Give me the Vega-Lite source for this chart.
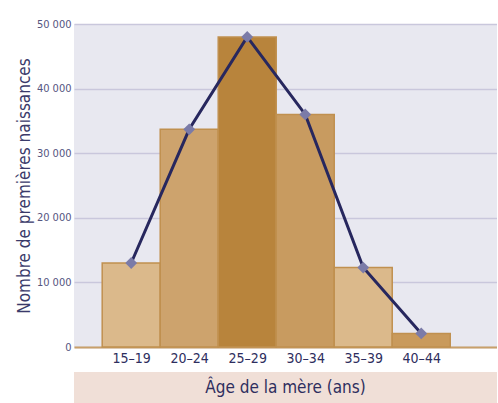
{
  "$schema": "https://vega.github.io/schema/vega-lite/v6.json",
  "padding": {"left": 15, "top": 18, "right": 0, "bottom": 0},
  "background": "#ffffff",
  "config": {
    "font": "Liberation Sans Narrow, DejaVu Sans Condensed, sans-serif",
    "view": {"stroke": null},
    "concat": {"spacing": 7}
  },
  "datasets": {
    "births": [
      {"age": "15–19", "start": 15, "end": 20, "mid": 17.5, "births": 13000},
      {"age": "20–24", "start": 20, "end": 25, "mid": 22.5, "births": 33700},
      {"age": "25–29", "start": 25, "end": 30, "mid": 27.5, "births": 48000},
      {"age": "30–34", "start": 30, "end": 35, "mid": 32.5, "births": 36000},
      {"age": "35–39", "start": 35, "end": 40, "mid": 37.5, "births": 12300},
      {"age": "40–44", "start": 40, "end": 45, "mid": 42.5, "births": 2100}
    ]
  },
  "vconcat": [
    {
      "width": 423,
      "height": 323,
      "view": {"fill": "#e8e8f0", "stroke": null},
      "data": {"name": "births"},
      "encoding": {
        "y": {
          "field": "births",
          "type": "quantitative",
          "scale": {"domain": [0, 50000], "nice": false, "padding": 0},
          "axis": {
            "title": "Nombre de premières naissances",
            "titleFontSize": 17,
            "titleFontWeight": "normal",
            "titleColor": "#3a3a6a",
            "titleAngle": -90,
            "titleX": -50,
            "titleBaseline": "middle",
            "values": [0, 10000, 20000, 30000, 40000, 50000],
            "labelExpr": "replace(format(datum.value, ',d'), ',', ' ')",
            "labelFontSize": 11,
            "labelColor": "#55557f",
            "labelPadding": 3,
            "ticks": false,
            "domain": false,
            "grid": true,
            "gridColor": "#c9c7dc",
            "gridWidth": 1.5
          }
        }
      },
      "layer": [
        {
          "mark": {"type": "bar", "stroke": "#c0904f", "strokeWidth": 1.5, "orient": "vertical"},
          "encoding": {
            "x": {
              "field": "start",
              "type": "quantitative",
              "scale": {"domain": [13, 48.6], "nice": false, "zero": false},
              "axis": {
                "title": null,
                "values": [17.5, 22.5, 27.5, 32.5, 37.5, 42.5],
                "labelExpr": "format(datum.value - 2.5, 'd') + '–' + format(datum.value + 1.5, 'd')",
                "labelFontSize": 14,
                "labelColor": "#2e2e5e",
                "labelPadding": 4,
                "ticks": false,
                "grid": false,
                "domainColor": "#c8a06a",
                "domainWidth": 2
              }
            },
            "x2": {"field": "end"},
            "y2": {"datum": 0},
            "color": {
              "field": "age",
              "type": "nominal",
              "scale": {
                "domain": ["15–19", "20–24", "25–29", "30–34", "35–39", "40–44"],
                "range": ["#dbb98b", "#cda36d", "#b8843c", "#c89b60", "#dbb98b", "#c99a5c"]
              },
              "legend": null
            }
          }
        },
        {
          "mark": {"type": "line", "color": "#27275e", "strokeWidth": 3},
          "encoding": {
            "x": {"field": "mid", "type": "quantitative"}
          }
        },
        {
          "mark": {"type": "point", "shape": "diamond", "filled": true, "color": "#7b7ba8", "size": 140, "opacity": 1},
          "encoding": {
            "x": {"field": "mid", "type": "quantitative"}
          }
        }
      ]
    },
    {
      "width": 423,
      "height": 31,
      "view": {"fill": "#f0dfd7", "stroke": null},
      "data": {"values": [{"title": "Âge de la mère (ans)"}]},
      "mark": {"type": "text", "fontSize": 17, "color": "#2e2e5e", "baseline": "middle", "align": "center"},
      "encoding": {
        "text": {"field": "title", "type": "nominal"}
      }
    }
  ]
}
